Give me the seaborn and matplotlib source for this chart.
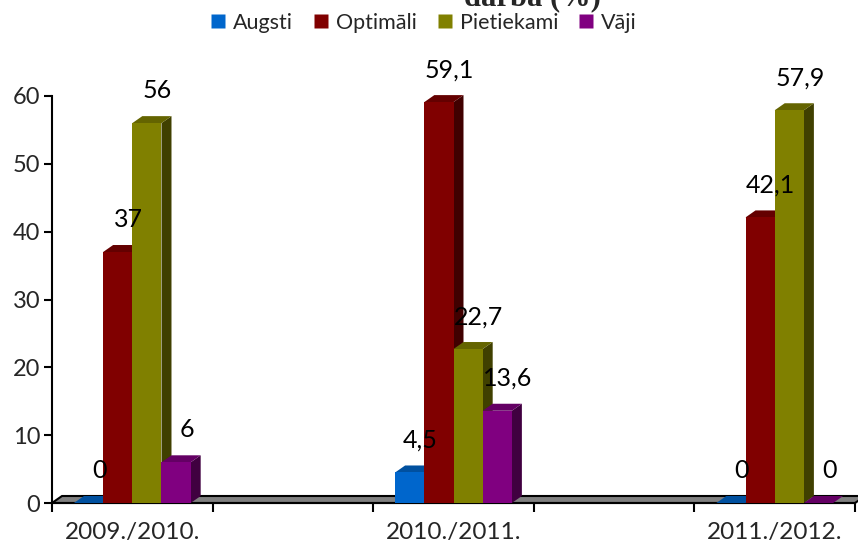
import matplotlib
matplotlib.use("Agg")
import matplotlib.pyplot as plt
import matplotlib.colors as mcolors
from matplotlib.patches import Polygon
from matplotlib.lines import Line2D
import numpy as np
import pandas as pd
import seaborn as sns

# values
years = ['2009./2010.', '2010./2011.', '2011./2012.']
levels = ['Augsti', 'Optimāli', 'Pietiekami', 'Vāji']
augsti = [0, 4.5, 0]
optimali = [37, 59.1, 42.1]
pietiekami = [56, 22.7, 57.9]
vaji = [6, 13.6, 0]
colors = ['#0066CC', '#800000', '#808000', '#800080']
title = 'darba (%)'

# the x axis has 5 slots, the 2nd and 4th are empty
slots = [years[0], ' ', years[1], '  ', years[2]]

df = pd.DataFrame({
    'year': years * 4,
    'level': np.repeat(levels, 3),
    'value': augsti + optimali + pietiekami + vaji,
})

sns.set_style("ticks")
plt.rcParams['font.family'] = ['Lato', 'DejaVu Sans']

fig = plt.figure(figsize=(8.58, 5.52), dpi=100)
ax = fig.add_axes([52 / 858, 49 / 552, 803 / 858, 407 / 552])

sns.barplot(data=df, x='year', y='value', hue='level', order=slots, hue_order=levels,
            palette=colors, width=0.727, saturation=1, errorbar=None, legend=False,
            linewidth=0, ax=ax)

ax.set_xlim(-0.5, 4.5)
ax.set_ylim(0, 60)
ax.set_yticks(range(0, 61, 10))
ax.set_xlabel('')
ax.set_ylabel('')

# depth of the fake 3d effect in pixels -> data units
w_px = ax.get_position().width * fig.get_figwidth() * fig.dpi
h_px = ax.get_position().height * fig.get_figheight() * fig.dpi
ddx = 10 * 5.0 / w_px
ddy = 7 * 60.0 / h_px


def shade(c, f):
    r, g, b = mcolors.to_rgb(c)
    return (r * f, g * f, b * f)


# floor
floor = Polygon([(-0.5, 0), (4.5, 0), (4.5 + ddx, ddy), (-0.5 + ddx, ddy)], closed=True,
                facecolor='#808080', edgecolor='black', lw=1.5, zorder=2, clip_on=False)
ax.add_patch(floor)

bars = sorted([p for p in ax.patches if p is not floor], key=lambda p: p.get_x())
for i, p in enumerate(bars):
    x0 = p.get_x()
    x1 = x0 + p.get_width()
    h = p.get_height()
    c = p.get_facecolor()
    z = 3 + 0.01 * i
    side = Polygon([(x1, 0), (x1 + ddx, ddy), (x1 + ddx, h + ddy), (x1, h)], closed=True,
                   facecolor=shade(c, 0.5), edgecolor='none', zorder=z, clip_on=False)
    top = Polygon([(x0, h), (x1, h), (x1 + ddx, h + ddy), (x0 + ddx, h + ddy)], closed=True,
                  facecolor=shade(c, 0.78), edgecolor='none', zorder=z, clip_on=False)
    ax.add_patch(side)
    ax.add_patch(top)
    p.set_zorder(z + 0.005)
    p.set_clip_on(False)
    lab = ('%g' % h).replace('.', ',')
    ax.annotate(lab, xy=(x0 + p.get_width() / 2 + ddx / 2, h + ddy), xytext=(4, 10),
                textcoords='offset points', ha='center', va='bottom', fontsize=18,
                color='black', annotation_clip=False, zorder=10)

# ticks: marks between slots, labels in slot centers
ax.set_xticks(np.arange(-0.5, 5, 1.0))
ax.set_xticklabels([])
ax.set_xticks(range(5), minor=True)
ax.set_xticklabels(slots, minor=True, fontsize=17.5)
ax.tick_params(axis='x', which='major', length=6.5, width=1.5, color='black', direction='out')
ax.tick_params(axis='x', which='minor', length=0, pad=14)
ax.tick_params(axis='y', length=5.5, width=1.5, color='black', direction='out', pad=3,
               labelsize=17)

for s in ['top', 'right']:
    ax.spines[s].set_visible(False)
ax.spines['left'].set_linewidth(1.5)
ax.spines['left'].set_color('black')
ax.spines['bottom'].set_linewidth(1.5)
ax.spines['bottom'].set_color('black')

handles = [Line2D([], [], marker='s', linestyle='none', markersize=10.5, markerfacecolor=c,
                  markeredgecolor='none') for c in colors]
fig.legend(handles, levels, ncol=4, loc='center', bbox_to_anchor=(423 / 858, 1 - 23 / 552),
           frameon=False, fontsize=15.5, handlelength=0.8, handletextpad=0.3,
           columnspacing=0.9, borderaxespad=0)

fig.text(532 / 858, 1 - 5 / 552, title, ha='center', va='baseline', fontsize=22,
         fontweight='bold', family=['Liberation Serif', 'DejaVu Serif'])

fig.savefig('out.png', dpi=100)
